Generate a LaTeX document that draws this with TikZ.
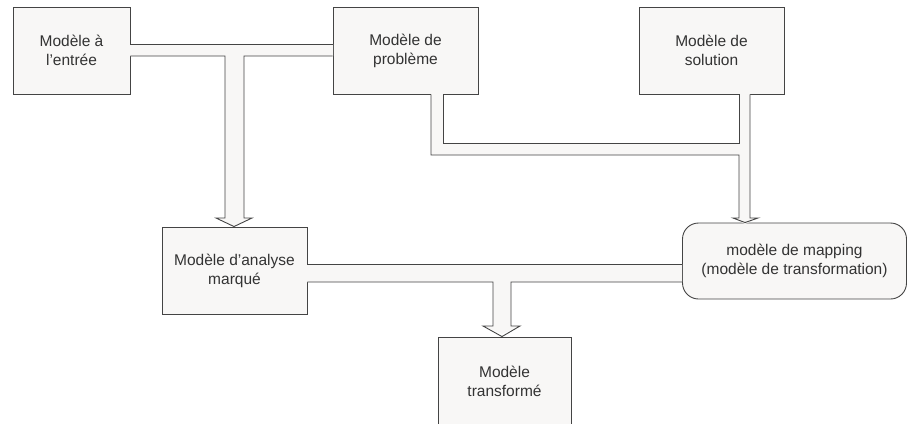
\documentclass[tikz,border=0pt]{standalone}
\usepackage{fontspec}
\setmainfont{Liberation Sans}
\definecolor{boxfill}{HTML}{F8F7F6}
\definecolor{edge}{HTML}{444444}
\definecolor{ink}{HTML}{333333}
\begin{document}
\begin{tikzpicture}[x=1pt,y=-1pt,
  model/.style={draw=edge,fill=boxfill,line width=0.9pt,text=ink,
    align=center,font=\fontsize{15.5}{19}\selectfont,inner sep=0pt},
  pipe/.style={draw=edge,line width=0.9pt,line join=miter},
  pipefill/.style={fill=boxfill}]
\useasboundingbox (0,0) rectangle (907,423);
% boxes
\node[model,minimum width=117pt,minimum height=87pt] (entree) at (71.5,50.5) {Modèle à\\l'entrée};
\node[model,minimum width=145pt,minimum height=87pt] (probleme) at (405.5,50.5) {Modèle de\\problème};
\node[model,minimum width=145pt,minimum height=87pt] (solution) at (711.5,50.5) {Modèle de\\solution};
\node[model,minimum width=145pt,minimum height=87pt] (analyse) at (234.5,270.5) {Modèle d'analyse\\marqué};
\node[model,minimum width=224pt,minimum height=76pt,rounded corners=16pt] (mapping) at (794.5,261) {modèle de mapping\\(modèle de transformation)};
\node[model,minimum width=133pt,minimum height=88pt] (transforme) at (504.5,381) {Modèle\\transformé};
% hollow arrow: entrée + problème -> analyse
\fill[pipefill] (130,44) -- (333,44) -- (333,56) -- (244,56) -- (244,218) -- (252,218)
  -- (234,227) -- (216,218) -- (225,218) -- (225,56) -- (130,56) -- cycle;
\draw[pipe] (entree.east |- 0,44) -- (probleme.west |- 0,44);
\draw[pipe] (entree.east |- 0,56) -- (225,56) -- (225,218) -- (216,218)
  -- (analyse.north -| 234,0) -- (252,218) -- (244,218) -- (244,56) -- (probleme.west |- 0,56);
% hollow arrow: problème + solution -> mapping
\fill[pipefill] (431,94) -- (431,155) -- (739,155) -- (739,218) -- (733,218) -- (745,224)
  -- (758,218) -- (750,218) -- (750,94) -- (739,94) -- (739,143) -- (443,143) -- (443,94) -- cycle;
\draw[pipe] (probleme.south -| 431,0) -- (431,155) -- (739,155) -- (739,218) -- (733,218)
  -- (mapping.north -| 745,0) -- (758,218) -- (750,218) -- (solution.south -| 750,0);
\draw[pipe] (probleme.south -| 443,0) -- (443,143) -- (739,143) -- (solution.south -| 739,0);
% hollow arrow: analyse + mapping -> transformé
\fill[pipefill] (307,264) -- (682,264) -- (682,282) -- (511,282) -- (511,326) -- (520,326)
  -- (502,334) -- (483,326) -- (493,326) -- (493,282) -- (307,282) -- cycle;
\draw[pipe] (analyse.east |- 0,264) -- (mapping.west |- 0,264);
\draw[pipe] (analyse.east |- 0,282) -- (493,282) -- (493,326) -- (483,326)
  -- (transforme.north -| 502,0) -- (520,326) -- (511,326) -- (511,282) -- (mapping.west |- 0,282);
\end{tikzpicture}
\end{document}
